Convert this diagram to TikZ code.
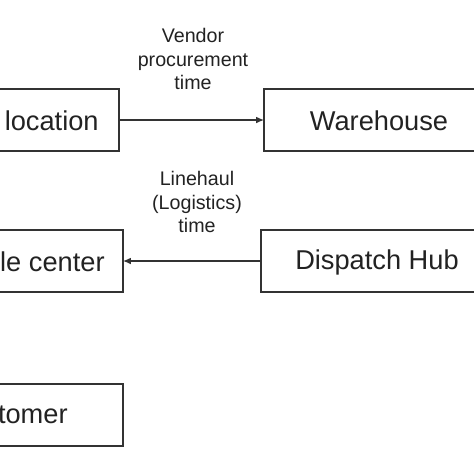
\documentclass[tikz,border=0pt]{standalone}
\usepackage{fontspec}
\setmainfont{Liberation Sans}
\usepackage{xcolor}
\usepackage{tikz}
\usetikzlibrary{arrows.meta, positioning}

\definecolor{boxline}{HTML}{333333}
\definecolor{boxtext}{HTML}{222222}

\tikzset{
  stagebox/.style={draw=boxline, line width=0.75pt, inner sep=0pt, outer sep=0pt,
    minimum width=4.8cm, minimum height=1.24cm},
  stagetext/.style={text=boxtext, inner sep=0pt, font=\fontsize{15.5}{18}\selectfont},
  timelabel/.style={text=boxtext, align=center, inner sep=0pt,
    font=\fontsize{11.2}{13.4}\selectfont},
  flow/.style={draw=boxline, line width=0.7pt, -{Latex[length=4.5pt, width=3.8pt]}}
}

\begin{document}
\begin{tikzpicture}[x=0.02cm, y=-0.02cm]
\useasboundingbox (0,0) rectangle (474,474);
\clip (0,0) rectangle (474,474);

% Row 1
\node[stagebox] (loc) at (-1,120) {};
\node[stagebox] (wh) at (384,120) {};
\node[stagetext, anchor=east] (loctext) at (99,121) {location};
\node[stagetext] (whtext) at (379,121) {Warehouse};
\draw[flow] (loc.east) -- (wh.west);
\node[timelabel] (vendor) at (193,59) {Vendor\\procurement\\time};

% Row 2
\node[stagebox] (sc) at (3,261) {};
\node[stagebox] (hub) at (381,261) {};
\node[stagetext, anchor=east] (sctext) at (105,262) {le center};
\node[stagetext] (hubtext) at (377,262) {Dispatch Hub};
\draw[flow] (hub.west) -- (sc.east);
\node[timelabel] (linehaul) at (197,202) {Linehaul\\(Logistics)\\time};

% Row 3
\node[stagebox] (cust) at (3,415) {};
\node[stagetext, anchor=east] (custtext) at (68,415) {tomer};
\end{tikzpicture}
\end{document}
